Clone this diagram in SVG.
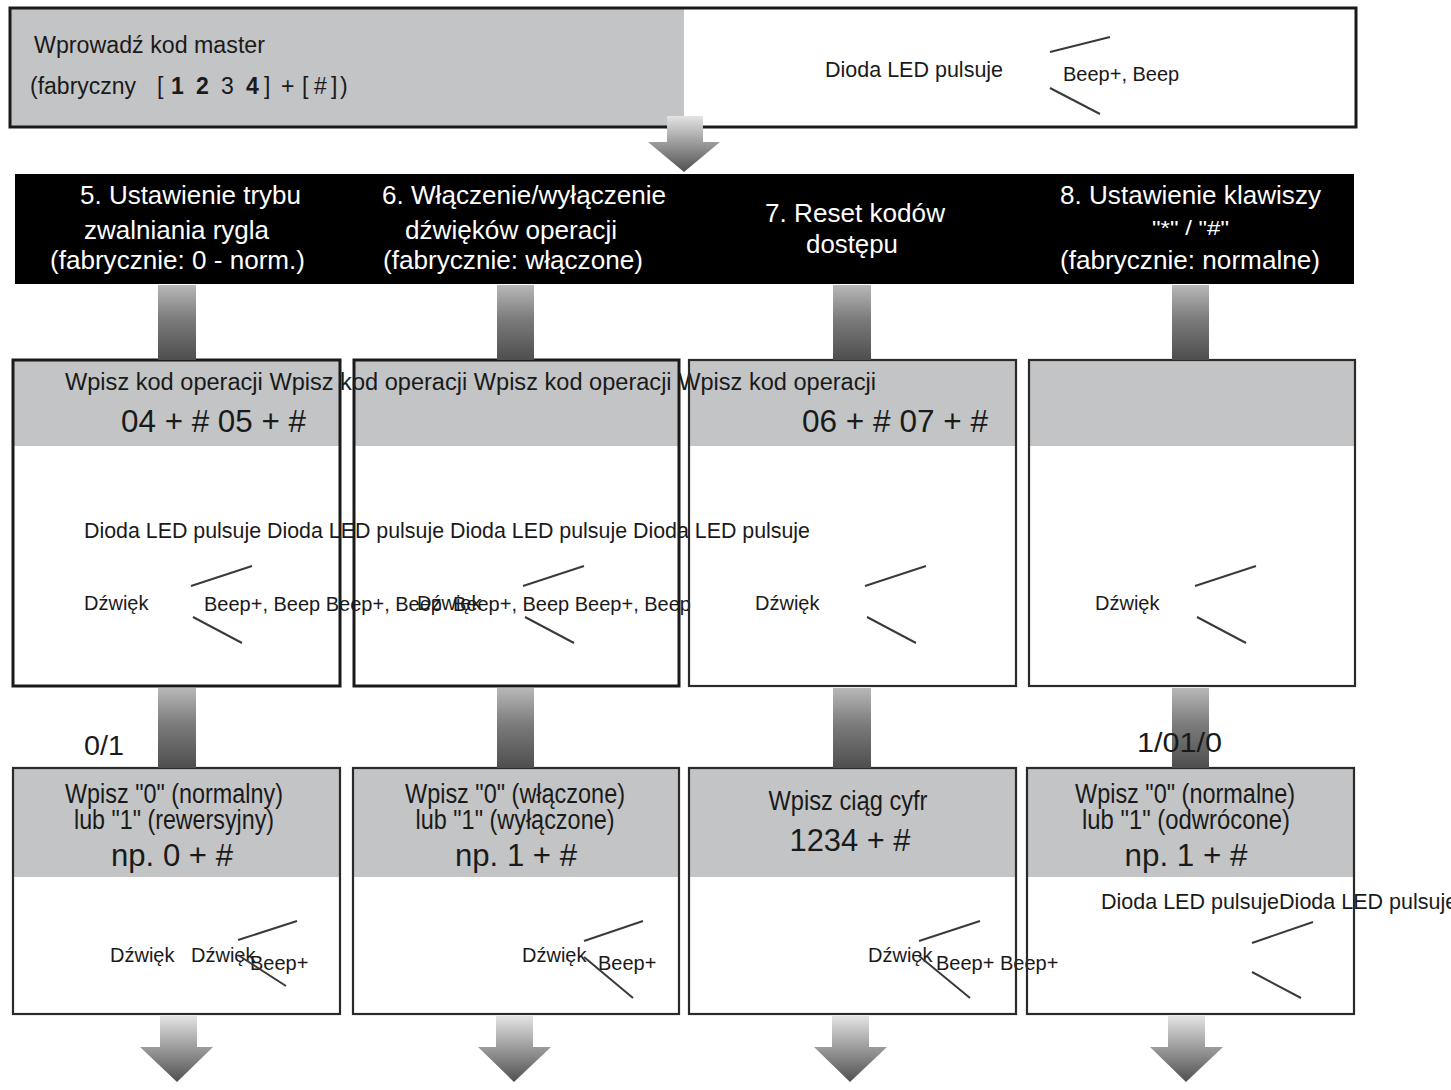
<svg xmlns="http://www.w3.org/2000/svg" width="1451" height="1090" viewBox="0 0 1451 1090">
<style>
.t{font-family:"Liberation Sans",Arial,sans-serif;fill:#1a1a1a;font-size:20px}
.h{font-family:"Liberation Sans",Arial,sans-serif;fill:#fff;font-size:25.5px}
.g{fill:#c2c4c5}
.wf{fill:#fff}
.o{fill:none;stroke:#1a1a1a;stroke-width:3}
.o2{fill:none;stroke:#2a2a2a;stroke-width:2.2}
.ln{stroke:#3a3a3a;stroke-width:2;fill:none}
.mid{text-anchor:middle}
.big{font-size:31px}
.cond{font-size:27px}
.k{font-size:23.5px}
.d{font-size:21.5px}
.m{font-size:23px}
.q{font-size:20px}
</style>
<defs>
<linearGradient id="gBar" x1="0" y1="0" x2="0" y2="1">
<stop offset="0" stop-color="#b8b8b8"/><stop offset="0.45" stop-color="#7c7c7c"/><stop offset="1" stop-color="#4e4e4e"/>
</linearGradient>
<linearGradient id="gArr" x1="0" y1="0" x2="0" y2="1">
<stop offset="0" stop-color="#e4e4e4"/><stop offset="0.45" stop-color="#a0a0a0"/><stop offset="1" stop-color="#505050"/>
</linearGradient>
</defs>
<rect width="1451" height="1090" fill="#fff"/>
<g id="backgrounds">
<rect class="wf" x="10" y="8" width="1346" height="119"/>
<rect class="g" x="10" y="8" width="674" height="119"/>
<rect fill="#000" x="15" y="174" width="1339" height="110"/>
<rect class="wf" x="13" y="360" width="327" height="326"/><rect class="g" x="13" y="360" width="327" height="86"/>
<rect class="wf" x="354" y="360" width="325" height="326"/><rect class="g" x="354" y="360" width="325" height="86"/>
<rect class="wf" x="689" y="360" width="327" height="326"/><rect class="g" x="689" y="360" width="327" height="86"/>
<rect class="wf" x="1029" y="360" width="326" height="326"/><rect class="g" x="1029" y="360" width="326" height="86"/>
<rect class="wf" x="13" y="768" width="327" height="246"/><rect class="g" x="13" y="768" width="327" height="109"/>
<rect class="wf" x="353" y="768" width="326" height="246"/><rect class="g" x="353" y="768" width="326" height="109"/>
<rect class="wf" x="689" y="768" width="327" height="246"/><rect class="g" x="689" y="768" width="327" height="109"/>
<rect class="wf" x="1027" y="768" width="327" height="246"/><rect class="g" x="1027" y="768" width="327" height="109"/>
</g>
<g id="node-master">
<text class="t m" x="34" y="53" textLength="231" lengthAdjust="spacingAndGlyphs">Wprowadź kod master</text>
<text class="t m" y="94"><tspan x="30">(fabryczny</tspan><tspan x="157">[</tspan><tspan x="171" font-weight="bold">1</tspan><tspan x="196" font-weight="bold">2</tspan><tspan x="221">3</tspan><tspan x="246" font-weight="bold">4</tspan><tspan x="264">]</tspan><tspan x="281">+</tspan><tspan x="302">[</tspan><tspan x="314">#</tspan><tspan x="331">]</tspan><tspan x="340">)</tspan></text>
<text class="t d" x="825" y="77">Dioda LED pulsuje</text>
<text class="t" x="1063" y="81">Beep+, Beep</text>
<path class="ln" d="M1050,52 L1110,37 M1050,88 L1100,114"/>
<rect class="o" x="10" y="8" width="1346" height="119"/>
</g>
<g id="header">
<g id="head-5">
<text class="h" x="80" y="204" textLength="221" lengthAdjust="spacingAndGlyphs">5. Ustawienie trybu</text>
<text class="h" x="84" y="239" textLength="185" lengthAdjust="spacingAndGlyphs">zwalniania rygla</text>
<text class="h" x="50" y="269" textLength="255" lengthAdjust="spacingAndGlyphs">(fabrycznie: 0 - norm.)</text>
</g>
<g id="head-6">
<text class="h" x="382" y="204" textLength="284" lengthAdjust="spacingAndGlyphs">6. Włączenie/wyłączenie</text>
<text class="h" x="405" y="239" textLength="212" lengthAdjust="spacingAndGlyphs">dźwięków operacji</text>
<text class="h" x="383" y="269" textLength="260" lengthAdjust="spacingAndGlyphs">(fabrycznie: włączone)</text>
</g>
<g id="head-7">
<text class="h" x="765" y="222" textLength="180" lengthAdjust="spacingAndGlyphs">7. Reset kodów</text>
<text class="h" x="806" y="253" textLength="92" lengthAdjust="spacingAndGlyphs">dostępu</text>
</g>
<g id="head-8">
<text class="h" x="1060" y="204" textLength="261" lengthAdjust="spacingAndGlyphs">8. Ustawienie klawiszy</text>
<text class="h q" x="1152" y="235" textLength="77" lengthAdjust="spacingAndGlyphs">"*" / "#"</text>
<text class="h" x="1060" y="269" textLength="260" lengthAdjust="spacingAndGlyphs">(fabrycznie: normalne)</text>
</g>
</g>
<g id="node-op-1">
<text class="t k" x="65" y="390" textLength="811" lengthAdjust="spacingAndGlyphs">Wpisz kod operacji Wpisz kod operacji Wpisz kod operacji Wpisz kod operacji</text>
<text class="t big" x="121" y="432" textLength="185" lengthAdjust="spacingAndGlyphs">04 + # 05 + #</text>
<text class="t d" x="84" y="538" textLength="726" lengthAdjust="spacingAndGlyphs">Dioda LED pulsuje Dioda LED pulsuje Dioda LED pulsuje Dioda LED pulsuje</text>
<text class="t" x="84" y="610">Dźwięk</text>
<text class="t" x="204" y="611">Beep+, Beep Beep+, Beep</text>
<path class="ln" d="M191,586 L252,566 M193,617 L242,643"/>
<rect class="o" x="13" y="360" width="327" height="326"/>
</g>
<g id="node-op-2">
<text class="t" x="417" y="610">Dźwięk</text>
<text class="t" x="453" y="611">Beep+, Beep Beep+, Beep</text>
<path class="ln" d="M523,586 L584,566 M525,617 L574,643"/>
<rect class="o" x="354" y="360" width="325" height="326"/>
</g>
<g id="node-op-3">
<text class="t big" x="802" y="432" textLength="186" lengthAdjust="spacingAndGlyphs">06 + # 07 + #</text>
<text class="t" x="755" y="610">Dźwięk</text>
<path class="ln" d="M865,586 L926,566 M867,617 L916,643"/>
<rect class="o2" x="689" y="360" width="327" height="326"/>
</g>
<g id="node-op-4">
<text class="t" x="1095" y="610">Dźwięk</text>
<path class="ln" d="M1195,586 L1256,566 M1197,617 L1246,643"/>
<rect class="o2" x="1029" y="360" width="326" height="326"/>
</g>
<g id="node-set-1">
<text class="t cond mid" x="174" y="803" textLength="218" lengthAdjust="spacingAndGlyphs">Wpisz "0" (normalny)</text>
<text class="t cond mid" x="174" y="829" textLength="200" lengthAdjust="spacingAndGlyphs">lub "1" (rewersyjny)</text>
<text class="t big mid" x="172" y="866" textLength="122" lengthAdjust="spacingAndGlyphs">np. 0 + #</text>
<text class="t" x="110" y="962">Dźwięk</text>
<text class="t" x="191" y="962">Dźwięk</text>
<text class="t" x="250" y="970">Beep+</text>
<path class="ln" d="M238,940 L297,921 M238,955 L286,986"/>
<rect class="o2" x="13" y="768" width="327" height="246"/>
</g>
<g id="node-set-2">
<text class="t cond mid" x="515" y="803" textLength="220" lengthAdjust="spacingAndGlyphs">Wpisz "0" (włączone)</text>
<text class="t cond mid" x="515" y="829" textLength="199" lengthAdjust="spacingAndGlyphs">lub "1" (wyłączone)</text>
<text class="t big mid" x="516" y="866" textLength="122" lengthAdjust="spacingAndGlyphs">np. 1 + #</text>
<text class="t" x="522" y="962">Dźwięk</text>
<text class="t" x="598" y="970">Beep+</text>
<path class="ln" d="M584,941 L643,921 M584,957 L633,998"/>
<rect class="o2" x="353" y="768" width="326" height="246"/>
</g>
<g id="node-set-3">
<text class="t cond mid" x="848" y="810" textLength="159" lengthAdjust="spacingAndGlyphs">Wpisz ciąg cyfr</text>
<text class="t big mid" x="850" y="851" textLength="121" lengthAdjust="spacingAndGlyphs">1234 + #</text>
<text class="t" x="868" y="962">Dźwięk</text>
<text class="t" x="936" y="970">Beep+ Beep+</text>
<path class="ln" d="M919,941 L980,921 M919,956 L970,998"/>
<rect class="o2" x="689" y="768" width="327" height="246"/>
</g>
<g id="node-set-4">
<text class="t cond mid" x="1185" y="803" textLength="220" lengthAdjust="spacingAndGlyphs">Wpisz "0" (normalne)</text>
<text class="t cond mid" x="1186" y="829" textLength="208" lengthAdjust="spacingAndGlyphs">lub "1" (odwrócone)</text>
<text class="t big mid" x="1186" y="866" textLength="123" lengthAdjust="spacingAndGlyphs">np. 1 + #</text>
<text class="t d" x="1101" y="909">Dioda LED pulsujeDioda LED pulsuje</text>
<path class="ln" d="M1252,943 L1313,922 M1252,972 L1301,998"/>
<rect class="o2" x="1027" y="768" width="327" height="246"/>
</g>
<g id="connectors">
<path fill="url(#gArr)" d="M667,116 H703 V142 H720 L684,172 L648,142 H667 Z"/>
<rect fill="url(#gBar)" x="158" y="285" width="38" height="75"/>
<rect fill="url(#gBar)" x="497" y="285" width="37" height="75"/>
<rect fill="url(#gBar)" x="833" y="285" width="38" height="75"/>
<rect fill="url(#gBar)" x="1172" y="285" width="37" height="75"/>
<rect fill="url(#gBar)" x="158" y="688" width="38" height="80"/>
<rect fill="url(#gBar)" x="497" y="688" width="37" height="80"/>
<rect fill="url(#gBar)" x="833" y="688" width="38" height="80"/>
<rect fill="url(#gBar)" x="1172" y="688" width="37" height="80"/>
<text class="t cond" x="84" y="755" textLength="40" lengthAdjust="spacingAndGlyphs">0/1</text>
<text class="t cond" x="1137" y="752" textLength="85" lengthAdjust="spacingAndGlyphs">1/01/0</text>
<path fill="url(#gArr)" d="M160,1016 H197 V1047 H213 L177,1082 L140,1047 H160 Z"/>
<path fill="url(#gArr)" d="M496,1016 H533 V1047 H551 L514,1082 L478,1047 H496 Z"/>
<path fill="url(#gArr)" d="M832,1016 H869 V1047 H887 L850,1082 L814,1047 H832 Z"/>
<path fill="url(#gArr)" d="M1168,1016 H1205 V1047 H1223 L1186,1082 L1150,1047 H1168 Z"/>
</g>
</svg>
